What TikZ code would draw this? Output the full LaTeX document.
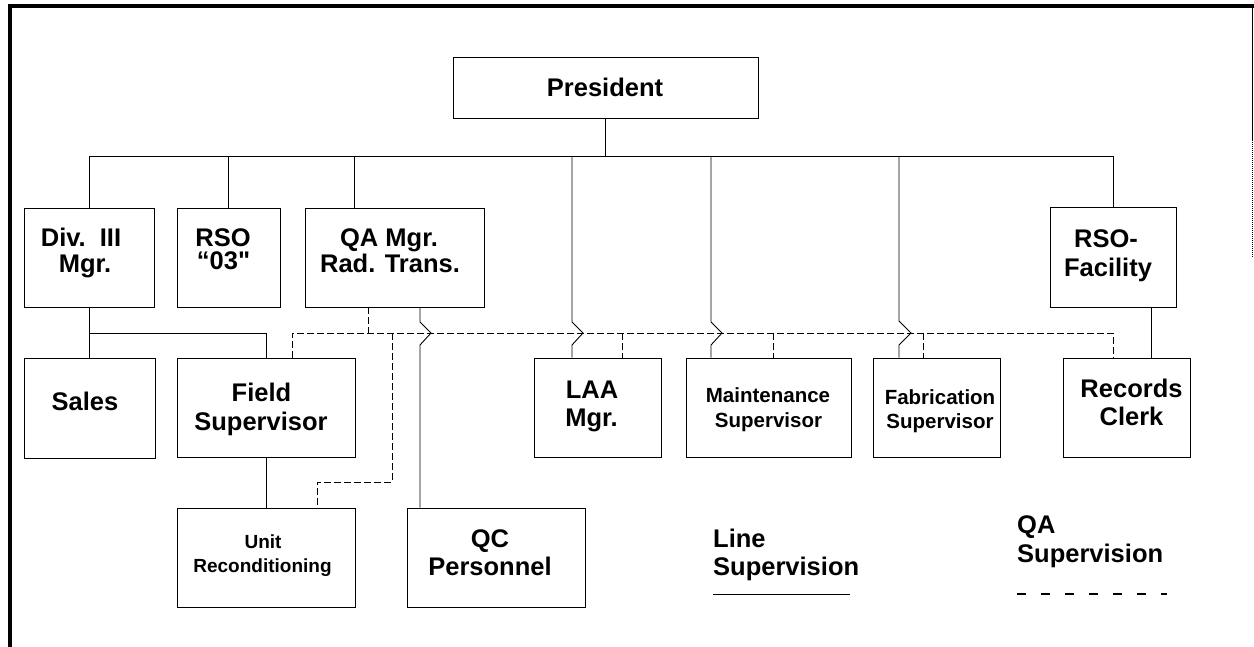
\documentclass[tikz,border=0pt]{standalone}
\usepackage{fontspec}
\setmainfont{Liberation Sans}
\newfontfamily\plainq{Liberation Sans}
\usetikzlibrary{calc}
\begin{document}
\begin{tikzpicture}[x=1pt,y=-1pt,
  box/.style={draw, line width=0.9pt, inner sep=0pt},
  conn/.style={line width=0.9pt},
  qaconn/.style={line width=0.9pt, dash pattern=on 7pt off 3pt},
  txt/.style={anchor=base, inner sep=0pt, font=\fontsize{25.5}{29}\selectfont\bfseries},
  smalltxt/.style={anchor=base, inner sep=0pt, font=\fontsize{20.5}{24}\selectfont\bfseries},
  tinytxt/.style={anchor=base, inner sep=0pt, font=\fontsize{19}{23}\selectfont\bfseries},
  legtxt/.style={anchor=base west, inner sep=0pt, font=\fontsize{25.5}{29}\selectfont\bfseries}]
\useasboundingbox (0,0) rectangle (1254,647);
% frame
\draw[line width=3.5pt] (10,647) -- (10,6) -- (1254,6);
\draw[line width=1pt] (1252,6) -- (1252,140);
\draw[line width=1pt, densely dotted] (1252,140) -- (1252,257);
% boxes
\node[box, minimum width=305pt, minimum height=61pt] (pres) at (605.5,87.5) {};
\node[box, minimum width=130pt, minimum height=99pt] (div) at (89,257.5) {};
\node[box, minimum width=103pt, minimum height=99pt] (rso) at (228.5,257.5) {};
\node[box, minimum width=179pt, minimum height=99pt] (qa) at (394.5,257.5) {};
\node[box, minimum width=126pt, minimum height=100pt] (rsof) at (1113,257.5) {};
\node[box, minimum width=131pt, minimum height=100pt] (sales) at (89.5,408) {};
\node[box, minimum width=178pt, minimum height=99pt] (field) at (266,407.5) {};
\node[box, minimum width=127pt, minimum height=99pt] (laa) at (597.5,407.5) {};
\node[box, minimum width=165pt, minimum height=99pt] (maint) at (768.5,407.5) {};
\node[box, minimum width=127pt, minimum height=99pt] (fab) at (936.5,407.5) {};
\node[box, minimum width=127pt, minimum height=99pt] (rec) at (1126.5,407.5) {};
\node[box, minimum width=178pt, minimum height=99pt] (unit) at (266,557.5) {};
\node[box, minimum width=178pt, minimum height=99pt] (qc) at (496,557.5) {};
% texts
\node[txt] (tpres) at (605,97) {President};
\node[txt] (tdiv1) at (81,247) {Div.\ \ III};
\node[txt] (tdiv2) at (85,273) {Mgr.};
\node[txt] (trso1) at (223,247) {RSO};
\node[txt] (trso2) at (223.5,270) {“03{\plainq\bfseries "}};
\node[txt] (tqa1) at (389,247) {QA Mgr.};
\node[txt] (tqa2) at (390,273) {Rad. Trans.};
\node[txt] (trsof1) at (1106,248) {RSO-};
\node[txt] (trsof2) at (1108,277) {Facility};
\node[txt] (tsales) at (85,410) {Sales};
\node[txt] (tfield1) at (261.5,401.5) {Field};
\node[txt] (tfield2) at (261,430) {Supervisor};
\node[txt] (tlaa1) at (592,398) {LAA};
\node[txt] (tlaa2) at (591.5,426) {Mgr.};
\node[smalltxt] (tmaint1) at (768,402) {Maintenance};
\node[smalltxt] (tmaint2) at (768.5,427) {Supervisor};
\node[smalltxt] (tfab1) at (940,404) {Fabrication};
\node[smalltxt] (tfab2) at (940,428) {Supervisor};
\node[txt] (trec1) at (1131.5,397) {Records};
\node[txt] (trec2) at (1131.5,425) {Clerk};
\node[tinytxt] (tunit1) at (263,548) {Unit};
\node[tinytxt] (tunit2) at (262.5,572) {Reconditioning};
\node[txt] (tqc1) at (490,547) {QC};
\node[txt] (tqc2) at (490,575) {Personnel};
\node[legtxt] (tline1) at (713,547) {Line};
\node[legtxt] (tline2) at (713,575) {Supervision};
\node[legtxt] (tqas1) at (1017,533) {QA};
\node[legtxt] (tqas2) at (1017,562) {Supervision};
% helper coordinates
\coordinate (bus) at (607,156);
\coordinate (qay) at (0,333);
\coordinate (laax) at ([xshift=-25.5pt]laa.north);
\coordinate (maintx) at ([xshift=-57.5pt]maint.north);
\coordinate (fabx) at ([xshift=-37.5pt]fab.north);
\coordinate (qcx) at ([xshift=25.5pt]qa.south);
% line supervision
\draw[conn] (pres.south) -- (pres.south |- bus);
\draw[conn] (div.north |- bus) -- (rsof.north |- bus);
\draw[conn] (div.north |- bus) -- (div.north);
\draw[conn] (rso.north |- bus) -- (rso.north);
\draw[conn] ([xshift=-40.5pt]qa.north |- bus) -- ([xshift=-40.5pt]qa.north);
\draw[conn] (rsof.north |- bus) -- (rsof.north);
\draw[conn] (laax |- bus) -- ([yshift=11pt]laax |- qay) -- ([xshift=11pt]laax |- qay)
  -- ([yshift=-12pt]laax |- qay) -- (laax);
\draw[conn] (maintx |- bus) -- ([yshift=11pt]maintx |- qay) -- ([xshift=11pt]maintx |- qay)
  -- ([yshift=-12pt]maintx |- qay) -- (maintx);
\draw[conn] (fabx |- bus) -- ([yshift=12pt]fabx |- qay) -- ([xshift=12pt]fabx |- qay)
  -- ([yshift=-12pt]fabx |- qay) -- (fabx);
\draw[conn] (qcx) -- ([yshift=11pt]qcx |- qay) -- ([xshift=11pt]qcx |- qay)
  -- ([yshift=-12pt]qcx |- qay) -- (qcx |- qc.north);
\draw[conn] (div.south) -- (div.south |- sales.north);
\draw[conn] (div.south |- qay) -| (field.north);
\draw[conn] (field.south) -- (unit.north);
\draw[conn] ([xshift=38pt]rsof.south) -- ([xshift=38pt]rsof.south |- rec.north);
% QA supervision
\draw[qaconn] ([xshift=-26.5pt]qa.south) -- ([xshift=-26.5pt]qa.south |- qay);
\draw[qaconn] ([xshift=26pt]field.north) |- ([xshift=-13.5pt]rec.north |- qay) -- ([xshift=-13.5pt]rec.north);
\draw[qaconn] ([xshift=24.5pt]laa.north |- qay) -- ([xshift=24.5pt]laa.north);
\draw[qaconn] ([xshift=4.5pt]maint.north |- qay) -- ([xshift=4.5pt]maint.north);
\draw[qaconn] ([xshift=-13.5pt]fab.north |- qay) -- ([xshift=-13.5pt]fab.north);
\draw[qaconn] ([xshift=-2.5pt]qa.south |- qay) -- ([xshift=-2.5pt,yshift=-149pt]qa.south |- qay) -| ([xshift=51pt]unit.north);
% legend
\draw[conn] (tline2.base west |- 0,594) -- ++(137,0);
\draw[line width=1.2pt, dash pattern=on 9pt off 15pt] (tqas2.base west |- 0,594) -- ++(150,0);
\end{tikzpicture}
\end{document}
